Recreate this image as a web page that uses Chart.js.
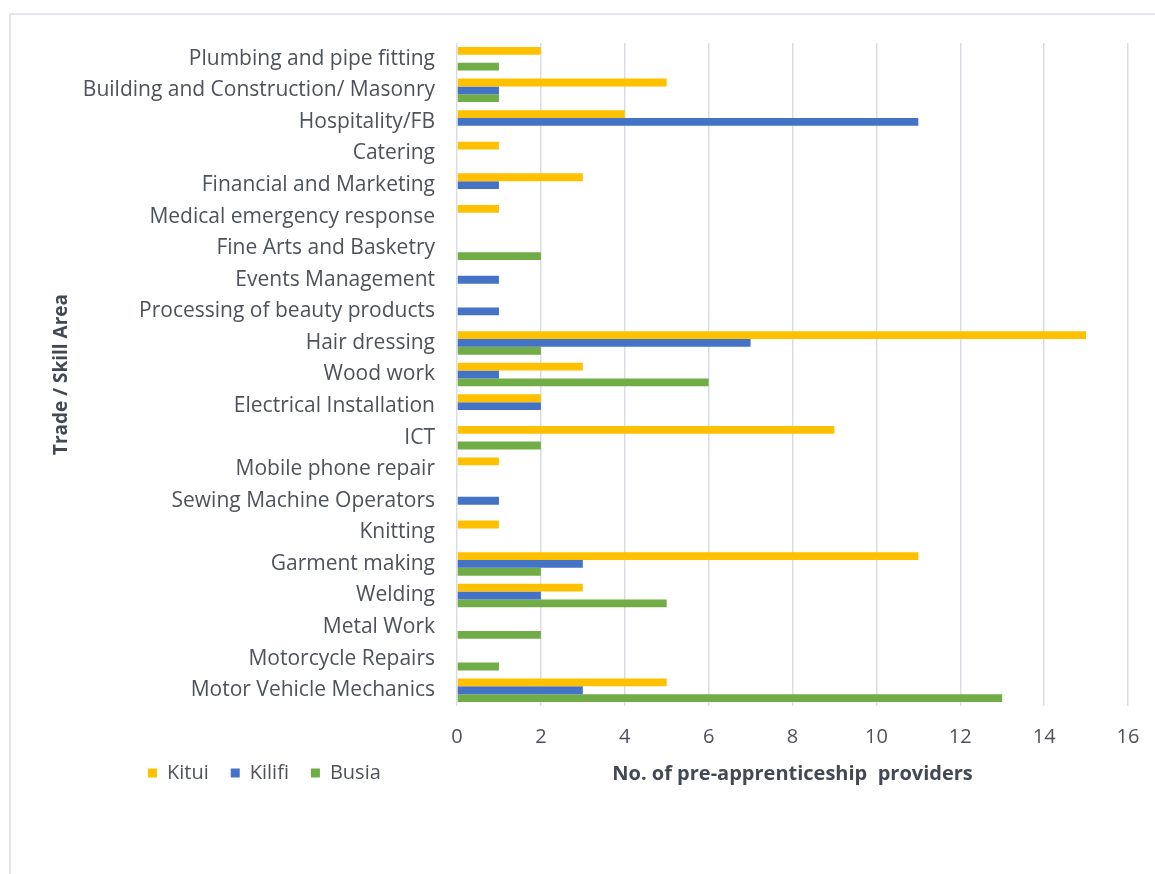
<!DOCTYPE html>
<html>
<head>
<meta charset="utf-8">
<title>Pre-apprenticeship providers by trade</title>
<script src="https://cdn.jsdelivr.net/npm/chart.js@4.4.0/dist/chart.umd.min.js"></script>
<style>
  html, body { margin: 0; padding: 0; background: #fff; }
  #wrap { position: relative; width: 1155px; height: 874px; overflow: hidden; }
  #frame { position: absolute; left: 9px; top: 13px; right: -10px; bottom: -10px;
           border-top: 2px solid #e3e6eb; border-left: 2px solid #e3e6eb; }
  canvas { position: absolute; left: 0; top: 0; }
</style>
</head>
<body>
<div id="wrap">
  <div id="frame"></div>
  <canvas id="skillChart" width="1155" height="874"></canvas>
</div>
<script>
// Data (top to bottom as in the chart)
const categories = [
  'Plumbing and pipe fitting',
  'Building and Construction/ Masonry',
  'Hospitality/FB',
  'Catering',
  'Financial and Marketing',
  'Medical emergency response',
  'Fine Arts and Basketry',
  'Events Management',
  'Processing of beauty products',
  'Hair dressing',
  'Wood work',
  'Electrical Installation',
  'ICT',
  'Mobile phone repair',
  'Sewing Machine Operators',
  'Knitting',
  'Garment making',
  'Welding',
  'Metal Work',
  'Motorcycle Repairs',
  'Motor Vehicle Mechanics'
];
const kitui  = [2, 5, 4, 1, 3, 1, 0, 0, 0, 15, 3, 2, 9, 1, 0, 1, 11, 3, 0, 0, 5];
const kilifi = [0, 1, 11, 0, 1, 0, 0, 1, 1, 7, 1, 2, 0, 0, 1, 0, 3, 2, 0, 0, 3];
const busia  = [1, 1, 0, 0, 0, 0, 2, 0, 0, 2, 6, 0, 2, 0, 0, 0, 2, 5, 2, 1, 13];
const xTicks = [0, 2, 4, 6, 8, 10, 12, 14, 16];

const FONT = '"Open Sans", Lato, sans-serif';
const TEXT = '#4d525b';
const TITLE = '#434953';

// put the legend on the same line as the x axis title, on the left
const legendBeside = {
  id: 'legendBeside',
  afterLayout(chart) {
    const lg = chart.legend;
    const pad = lg.options.labels.padding;
    const ih = lg.options.labels.font.size;
    const dy = (773 - pad - ih / 2) - lg.top;
    lg.top += dy;
    lg.bottom += dy;
    lg.left = 148 - pad;
  }
};

const ctx = document.getElementById('skillChart').getContext('2d');
new Chart(ctx, {
  type: 'bar',
  data: {
    labels: categories,
    datasets: [
      { label: 'Kitui',  data: kitui,  backgroundColor: '#FFC000' },
      { label: 'Kilifi', data: kilifi, backgroundColor: '#4472C4' },
      { label: 'Busia',  data: busia,  backgroundColor: '#70AD47' }
    ]
  },
  options: {
    indexAxis: 'y',
    responsive: false,
    animation: false,
    categoryPercentage: 0.745,
    barPercentage: 1,
    layout: { padding: { top: 43, right: 27, left: 50, bottom: 36 } },
    plugins: {
      tooltip: { enabled: false },
      legend: {
        position: 'bottom',
        align: 'start',
        labels: {
          boxWidth: 9,
          boxHeight: 9,
          padding: 22,
          color: TEXT,
          font: { family: FONT, size: 20 }
        }
      }
    },
    scales: {
      x: {
        min: xTicks[0],
        max: xTicks[xTicks.length - 1],
        afterBuildTicks: axis => { axis.ticks = xTicks.map(v => ({ value: v })); },
        afterFit: axis => {
          axis.height = 80;
          axis.paddingRight = 0;
        },
        grid: { color: '#d9dde3', lineWidth: 1.5, drawTicks: false },
        border: { display: false },
        ticks: { color: TEXT, padding: 19, font: { family: FONT, size: 20 } },
        title: {
          display: true,
          text: 'No. of pre-apprenticeship  providers',
          color: TITLE,
          font: { family: FONT, size: 20, weight: 'bold' },
          padding: { top: 0, bottom: 0 }
        }
      },
      y: {
        afterFit: axis => { axis.width = 407; },
        grid: { display: false },
        border: { display: false },
        ticks: { color: TEXT, padding: 14, autoSkip: false, font: { family: FONT, size: 21 } },
        title: {
          display: true,
          text: 'Trade / Skill Area',
          color: TITLE,
          font: { family: FONT, size: 19, weight: 'bold' },
          padding: { top: 0, bottom: 0 }
        }
      }
    }
  },
  plugins: [legendBeside]
});
</script>
</body>
</html>
